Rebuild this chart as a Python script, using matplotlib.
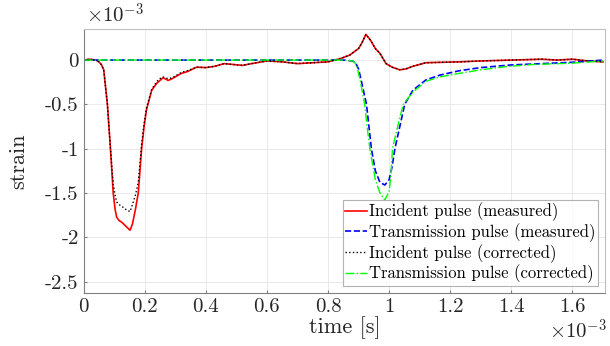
import numpy as np
import matplotlib.pyplot as plt
from matplotlib.ticker import FuncFormatter

plt.rcParams['font.family'] = 'cmr10'
plt.rcParams['mathtext.fontset'] = 'cm'
plt.rcParams['axes.formatter.use_mathtext'] = True
plt.rcParams['axes.unicode_minus'] = False

# values (time and strain both in units of 1e-3)
t_inc = [0, 0.02, 0.04, 0.05, 0.058, 0.066, 0.078, 0.088, 0.097, 0.103, 0.108, 0.116, 0.125,
         0.14, 0.152, 0.16, 0.17, 0.179, 0.19, 0.198, 0.206, 0.223, 0.24, 0.25, 0.26,
         0.277, 0.29, 0.305, 0.32, 0.34, 0.37, 0.4, 0.43, 0.46, 0.49, 0.52,
         0.55, 0.6, 0.65, 0.7, 0.75, 0.8, 0.839, 0.871, 0.9, 0.912, 0.924, 0.94, 0.955,
         0.97, 0.99, 1.01, 1.035, 1.055, 1.078, 1.12, 1.23, 1.3, 1.4, 1.5, 1.55, 1.6, 1.65, 1.7]
inc_meas = [0, 0.01, 0.0, -0.02, -0.05, -0.11, -0.5, -1.0, -1.5, -1.68, -1.77, -1.81, -1.83,
            -1.88, -1.92, -1.85, -1.68, -1.5, -1.0, -0.75, -0.56, -0.34, -0.26, -0.23, -0.2,
            -0.23, -0.21, -0.18, -0.15, -0.13, -0.08, -0.085, -0.07, -0.04, -0.05, -0.06,
            -0.04, -0.01, -0.02, -0.04, -0.03, -0.02, 0.015, 0.056, 0.13, 0.2, 0.29, 0.22, 0.13,
            0.075, -0.04, -0.08, -0.11, -0.1, -0.07, -0.03, -0.02, -0.01, 0.0, 0.01, 0.0, 0.01, -0.01, -0.02]
inc_corr = [0, 0.01, 0.0, -0.02, -0.05, -0.11, -0.5, -1.0, -1.4, -1.52, -1.6, -1.63, -1.65,
            -1.69, -1.71, -1.63, -1.52, -1.38, -0.95, -0.72, -0.54, -0.33, -0.24, -0.21, -0.19,
            -0.21, -0.2, -0.17, -0.14, -0.12, -0.08, -0.085, -0.07, -0.04, -0.05, -0.06,
            -0.04, -0.01, -0.02, -0.04, -0.03, -0.02, 0.015, 0.056, 0.13, 0.2, 0.29, 0.22, 0.13,
            0.075, -0.04, -0.08, -0.11, -0.1, -0.07, -0.03, -0.02, -0.01, 0.0, 0.01, 0.0, 0.01, -0.01, -0.02]

t_tr_meas = [0, 0.5, 0.85, 0.88, 0.89, 0.9, 0.91, 0.926, 0.934, 0.942, 0.955, 0.97, 0.986,
             1.0, 1.01, 1.019, 1.035, 1.051, 1.078, 1.12, 1.166, 1.23, 1.3, 1.4, 1.5, 1.6, 1.7]
tr_meas = [0, 0.0, 0.0, -0.01, -0.03, -0.1, -0.25, -0.5, -0.75, -1.0, -1.25, -1.38, -1.41,
           -1.35, -1.2, -1.0, -0.75, -0.5, -0.34, -0.225, -0.17, -0.12, -0.085, -0.055, -0.04, -0.025, 0.0]

t_tr_corr = [0, 0.5, 0.85, 0.882, 0.893, 0.904, 0.912, 0.92, 0.928, 0.937, 0.955, 0.97, 0.986,
             1.0, 1.006, 1.011, 1.028, 1.046, 1.078, 1.12, 1.166, 1.23, 1.3, 1.38, 1.47, 1.6, 1.7]
tr_corr = [0, 0.0, 0.0, -0.01, -0.05, -0.21, -0.35, -0.5, -0.75, -1.0, -1.35, -1.5, -1.58,
           -1.48, -1.3, -1.0, -0.75, -0.5, -0.36, -0.24, -0.19, -0.15, -0.11, -0.075, -0.05, -0.035, -0.01]

labels = ['Incident pulse (measured)', 'Transmission pulse (measured)',
          'Incident pulse (corrected)', 'Transmission pulse (corrected)']

s = 1e-3
fig = plt.figure(figsize=(6.1, 3.46), dpi=100)
ax = fig.add_axes([0.137, 0.152, 0.855, 0.763])

ax.plot(np.array(t_inc)*s, np.array(inc_meas)*s, '-', color='#ff0000', lw=1.2, label=labels[0])
ax.plot(np.array(t_tr_meas)*s, np.array(tr_meas)*s, '--', color='#0000ff', lw=1.2, label=labels[1])
ax.plot(np.array(t_inc)*s, np.array(inc_corr)*s, ':', color='black', lw=1.0, label=labels[2])
ax.plot(np.array(t_tr_corr)*s, np.array(tr_corr)*s, '-.', color='#00ff00', lw=1.0, label=labels[3])

ax.set_xlim(0, 1.707e-3)
ax.set_ylim(-2.633e-3, 0.346e-3)
ax.set_xticks(np.arange(0, 1.61e-3, 0.2e-3))
ax.set_yticks(np.arange(-2.5e-3, 0.1e-3, 0.5e-3))
fmt = FuncFormatter(lambda v, p: '%g' % round(v*1e3, 6))
ax.xaxis.set_major_formatter(fmt)
ax.yaxis.set_major_formatter(fmt)
ax.grid(True, color='#e6e6e6', lw=0.6)
ax.set_axisbelow(True)
for side in ['left', 'bottom']:
    ax.spines[side].set_color('#808080')
for side in ['top', 'right']:
    ax.spines[side].set_color('#c0c0c0')
ax.tick_params(direction='in', length=2, color='#808080', labelsize=15, labelcolor='#262626')

# exponent labels, placed like matlab does
fig.text(0.141, 0.957, r'$\times10^{-3}$', fontsize=15, color='#262626', ha='left', va='center')
fig.text(0.995, 0.045, r'$\times10^{-3}$', fontsize=15, color='#262626', ha='right', va='center')

ax.set_xlabel('time [s]', fontsize=16, color='#262626')
ax.xaxis.set_label_coords(0.5, -0.088)
ax.set_ylabel('strain', fontsize=16, color='#262626')
ax.yaxis.set_label_coords(-0.107, 0.5)

leg = ax.legend(loc='lower right', fontsize=12, handlelength=1.3, handletextpad=0.1,
                borderpad=0.15, labelspacing=0.12, fancybox=False, borderaxespad=0.45)
leg.get_frame().set_edgecolor('#a0a0a0')
leg.get_frame().set_linewidth(0.8)

fig.savefig('out.png', dpi=100)
